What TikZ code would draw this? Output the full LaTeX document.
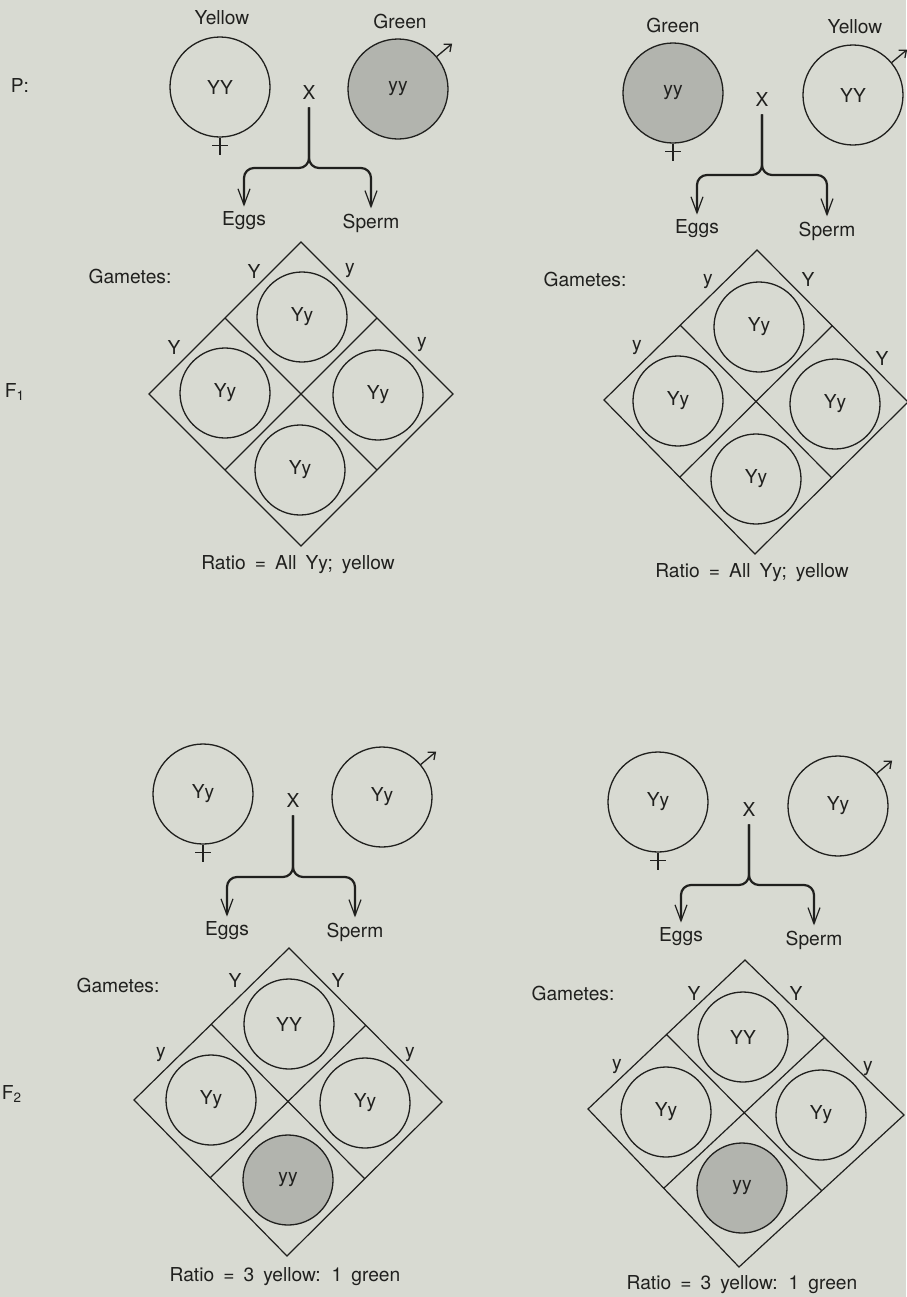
\documentclass[tikz,border=0pt]{standalone}
\usepackage{fontspec}
\setmainfont{TeX Gyre Heros}
\newfontfamily\ratiofont[WordSpace=1.7]{TeX Gyre Heros}
\usepackage{tikz}
\usetikzlibrary{arrows.meta}
\definecolor{paper}{RGB}{216,218,210}
\definecolor{ink}{RGB}{32,32,30}
\definecolor{stipple}{RGB}{178,180,174}

\begin{document}
\begin{tikzpicture}[x=0.5pt,y=-0.5pt,
      lbl/.style={inner sep=1pt, text=ink, font=\fontsize{9.6}{11}\selectfont},
      ratio/.style={lbl, font=\ratiofont\fontsize{9.6}{11}\selectfont},
      org/.style={circle, draw=ink, line width=0.65pt, minimum size=50pt,
                  inner sep=0pt, text=ink, font=\fontsize{9.6}{11}\selectfont},
      cell/.style={org, minimum size=45pt},
      grn/.style={fill=stipple},
      sq/.style={draw=ink, line width=0.6pt},
      sym/.style={draw=ink, line width=0.65pt},
      male/.style={sym, -{Straight Barb[length=3pt,width=5pt]}},
      brc/.style={draw=ink, line width=1.1pt, rounded corners=5pt,
                  shorten <=3pt, shorten >=1.5pt,
                  -{Straight Barb[line width=0.6pt,length=8pt,width=6pt]}}]
    \fill[paper] (0,0) rectangle (906,1297);
    \useasboundingbox (0,0) rectangle (906,1297);

    % generation labels
    \node[lbl] (gP) at (20,85) {P:};
    \node[lbl] (gF1) at (15,392) {F\textsubscript{1}};
    \node[lbl] (gF2) at (12,1094) {F\textsubscript{2}};

    % ---- P cross: yellow female x green male ----
    \node[lbl] (colA1) at (222,18) {Yellow};
    \node[lbl] (colA2) at (400,21) {Green};
    \node[org] (femA) at (220,87) {YY};
    \node[org,grn] (malA) at (398,89) {yy};
    \draw[sym] (femA.south) -- ++(0,17) (femA.south) ++(-8,8) -- ++(16,0);
    \draw[male] (malA.40) -- ++(-40:20);
    \node[lbl] (xA) at (309,92) {X};
    \coordinate (jA) at (309,168);
    \node[lbl] (eggA) at (244,221) {Eggs};
    \node[lbl] (spmA) at (371,223) {Sperm};
    \draw[brc] (xA.south) -- (jA) -| (eggA.north);
    \draw[brc] (xA.south) -- (jA) -| (spmA.north);
    \node[lbl] (gamA) at (130,276) {Gametes:};
    \draw[sq] (301,242) -- (453,394) -- (301,546) -- (149,394) -- cycle
      (225,318) -- (377,470) (377,318) -- (225,470);
    \node[lbl] at (254,271) {Y};
    \node[lbl] at (350,271) {y};
    \node[lbl] at (174,347) {Y};
    \node[lbl] at (422,345) {y};
    \node[cell] (cAt) at (302,317) {Yy};
    \node[cell] (cAl) at (225,393) {Yy};
    \node[cell] (cAr) at (378,395) {Yy};
    \node[cell] (cAb) at (300,470) {Yy};
    \node[ratio] (rA) at (298,565) {Ratio = All Yy; yellow};

    % ---- P cross: green female x yellow male ----
    \node[lbl] (colB1) at (673,25) {Green};
    \node[lbl] (colB2) at (855,27) {Yellow};
    \node[org,grn] (femB) at (673,93) {yy};
    \node[org] (malB) at (853,95) {YY};
    \draw[sym] (femB.south) -- ++(0,17) (femB.south) ++(-8,8) -- ++(16,0);
    \draw[male] (malB.40) -- ++(-40:20);
    \node[lbl] (xB) at (762,99) {X};
    \coordinate (jB) at (762,175);
    \node[lbl] (eggB) at (697,229) {Eggs};
    \node[lbl] (spmB) at (827,231) {Sperm};
    \draw[brc] (xB.south) -- (jB) -| (eggB.north);
    \draw[brc] (xB.south) -- (jB) -| (spmB.north);
    \node[lbl] (gamB) at (585,279) {Gametes:};
    \draw[sq] (757,250) -- (908,402) -- (755,554) -- (604,400) -- cycle
      (680,325) -- (832,478) (832,326) -- (680,477);
    \node[lbl] at (708,282) {y};
    \node[lbl] at (808,279) {Y};
    \node[lbl] at (637,348) {y};
    \node[lbl] at (882,358) {Y};
    \node[cell] (cBt) at (759,327) {Yy};
    \node[cell] (cBl) at (678,401) {Yy};
    \node[cell] (cBr) at (835,404) {Yy};
    \node[cell] (cBb) at (756,479) {Yy};
    \node[ratio] (rB) at (752,573) {Ratio = All Yy; yellow};

    % ---- F1 x F1 (left) ----
    \node[org] (femC) at (203,794) {Yy};
    \node[org] (malC) at (382,797) {Yy};
    \draw[sym] (femC.south) -- ++(0,17) (femC.south) ++(-8,8) -- ++(16,0);
    \draw[male] (malC.40) -- ++(-40:20);
    \node[lbl] (xC) at (293,800) {X};
    \coordinate (jC) at (293,877);
    \node[lbl] (eggC) at (227,931) {Eggs};
    \node[lbl] (spmC) at (355,932) {Sperm};
    \draw[brc] (xC.south) -- (jC) -| (eggC.north);
    \draw[brc] (xC.south) -- (jC) -| (spmC.north);
    \node[lbl] (gamC) at (118,985) {Gametes:};
    \draw[sq] (289,948) -- (442,1102) -- (287,1256) -- (134,1100) -- cycle
      (211,1024) -- (365,1179) (366,1025) -- (210,1178);
    \node[lbl] at (235,980) {Y};
    \node[lbl] at (338,980) {Y};
    \node[lbl] at (161,1055) {y};
    \node[lbl] at (410,1055) {y};
    \node[cell] (cCt) at (289,1024) {YY};
    \node[cell] (cCl) at (211,1100) {Yy};
    \node[cell] (cCr) at (365,1103) {Yy};
    \node[cell,grn] (cCb) at (288,1180) {yy};
    \node[ratio] (rC) at (285,1277) {Ratio = 3 yellow: 1 green};

    % ---- F1 x F1 (right) ----
    \node[org] (femD) at (658,802) {Yy};
    \node[org] (malD) at (838,806) {Yy};
    \draw[sym] (femD.south) -- ++(0,17) (femD.south) ++(-8,8) -- ++(16,0);
    \draw[male] (malD.40) -- ++(-40:20);
    \node[lbl] (xD) at (749,809) {X};
    \coordinate (jD) at (749,885);
    \node[lbl] (eggD) at (681,937) {Eggs};
    \node[lbl] (spmD) at (814,940) {Sperm};
    \draw[brc] (xD.south) -- (jD) -| (eggD.north);
    \draw[brc] (xD.south) -- (jD) -| (spmD.north);
    \node[lbl] (gamD) at (573,993) {Gametes:};
    \draw[sq] (745,960) -- (904,1115) -- (739,1267) -- (588,1109) -- cycle
      (666,1034) -- (822,1191) (825,1037) -- (664,1188);
    \node[lbl] at (694,993) {Y};
    \node[lbl] at (796,993) {Y};
    \node[lbl] at (617,1067) {y};
    \node[lbl] at (868,1069) {y};
    \node[cell] (cDt) at (743,1037) {YY};
    \node[cell] (cDl) at (666,1112) {Yy};
    \node[cell] (cDr) at (821,1115) {Yy};
    \node[cell,grn] (cDb) at (742,1188) {yy};
    \node[ratio] (rD) at (742,1285) {Ratio = 3 yellow: 1 green};
  \end{tikzpicture}
\end{document}
